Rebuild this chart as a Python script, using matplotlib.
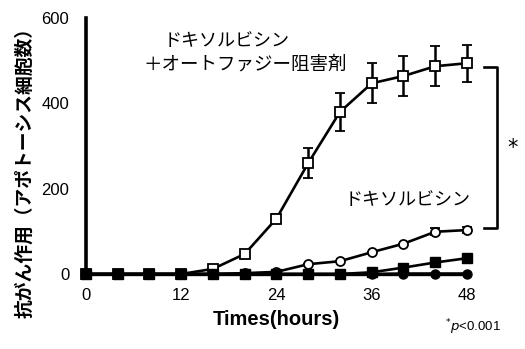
import matplotlib
matplotlib.use("Agg")
import matplotlib.pyplot as plt

# Time points (hours)
hours = [0, 4, 8, 12, 16, 20, 24, 28, 32, 36, 40, 44, 48]

# Doxorubicin + autophagy inhibitor (open squares)
dox_inhib = [0, 0, 0, 0, 12, 47, 130, 260, 380, 447, 464, 487, 494]
dox_inhib_err = [0, 0, 0, 0, 3, 6, 10, 35, 45, 47, 47, 47, 43]

# Doxorubicin alone (open circles)
dox = [0, 0, 0, 0, 0, 2, 5, 23, 30, 51, 71, 99, 103]
dox_err = [0, 0, 0, 0, 0, 0, 0, 0, 0, 0, 0, 8, 8]

# Controls (filled squares / filled circles)
ctrl_sq = [0, 0, 0, 0, 0, 0, 0, 0, 0, 4, 15, 27, 37]
ctrl_sq_err = [0, 0, 0, 0, 0, 0, 0, 0, 0, 0, 4, 6, 8]
ctrl_ci = [0, 0, 0, 0, 0, 0, 0, 0, 0, 0, 1, 1, 1]

xticks = [0, 12, 24, 36, 48]
yticks = [0, 200, 400, 600]

jp = ["Noto Sans CJK JP", "DejaVu Sans"]
num_font = ["Liberation Sans Narrow", "Liberation Sans", "DejaVu Sans"]

fig = plt.figure(figsize=(5.25, 3.49), dpi=100)
ax = fig.add_axes([0.1638, 0.2149, 0.7257, 0.7335])

common = dict(color="black", lw=1.9, capsize=3.6, elinewidth=1.8, capthick=1.8,
              clip_on=False)

ax.errorbar(hours, dox, yerr=dox_err, fmt="-o", ms=6.5, mfc="white", mec="black", mew=1.3,
            zorder=4, **common)
ax.errorbar(hours, dox_inhib, yerr=dox_inhib_err, fmt="-s", ms=6.5, mfc="white", mec="black",
            mew=1.3, zorder=5, **common)
ax.errorbar(hours, ctrl_ci, fmt="-o", ms=6.5, mfc="black", mec="black", zorder=6, **common)
ax.errorbar(hours, ctrl_sq, yerr=ctrl_sq_err, fmt="-s", ms=7.5, mfc="black", mec="black",
            zorder=7, **common)

ax.set_xlim(0, 48)
ax.set_ylim(0, 600)
ax.set_xticks(xticks)
ax.set_yticks(yticks)
ax.set_xticklabels([str(v) for v in xticks], family=num_font, fontsize=12)
ax.set_yticklabels([str(v) for v in yticks], family=num_font, fontsize=12)
ax.tick_params(axis="both", length=0)
ax.tick_params(axis="y", pad=12)
ax.tick_params(axis="x", pad=10)

for s in ("top", "right"):
    ax.spines[s].set_visible(False)
ax.spines["left"].set_linewidth(2.6)
ax.spines["bottom"].set_linewidth(2.4)

ax.set_xlabel("Times(hours)", family=["Liberation Sans", "DejaVu Sans"], fontweight="bold",
              fontsize=14.5, labelpad=5)
fig.text(0.047, 0.519, "抗がん作用（アポトーシス細胞数）", rotation=90, ha="center", va="center",
         family=jp, fontweight="bold", fontsize=13.5)

# Series labels
ax.text(17.7, 546, "ドキソルビシン", ha="center", va="center", family=jp, fontsize=13)
ax.text(20.1, 490, "＋オートファジー阻害剤", ha="center", va="center", family=jp, fontsize=13.3)
ax.text(40.5, 173, "ドキソルビシン", ha="center", va="center", family=jp, fontsize=13)

# Significance bracket
ax.plot([50.2, 51.8, 51.8, 50.2], [486, 486, 108, 108], color="black", lw=1.9,
        clip_on=False)
ax.text(53.8, 295, "*", ha="center", va="center", fontsize=15, family="DejaVu Sans")
fig.text(0.848, 0.063, r"$^{*}p$<0.001", ha="left", va="center", fontsize=9.5,
         family=num_font)

fig.savefig("out.png", dpi=100, facecolor="white")
